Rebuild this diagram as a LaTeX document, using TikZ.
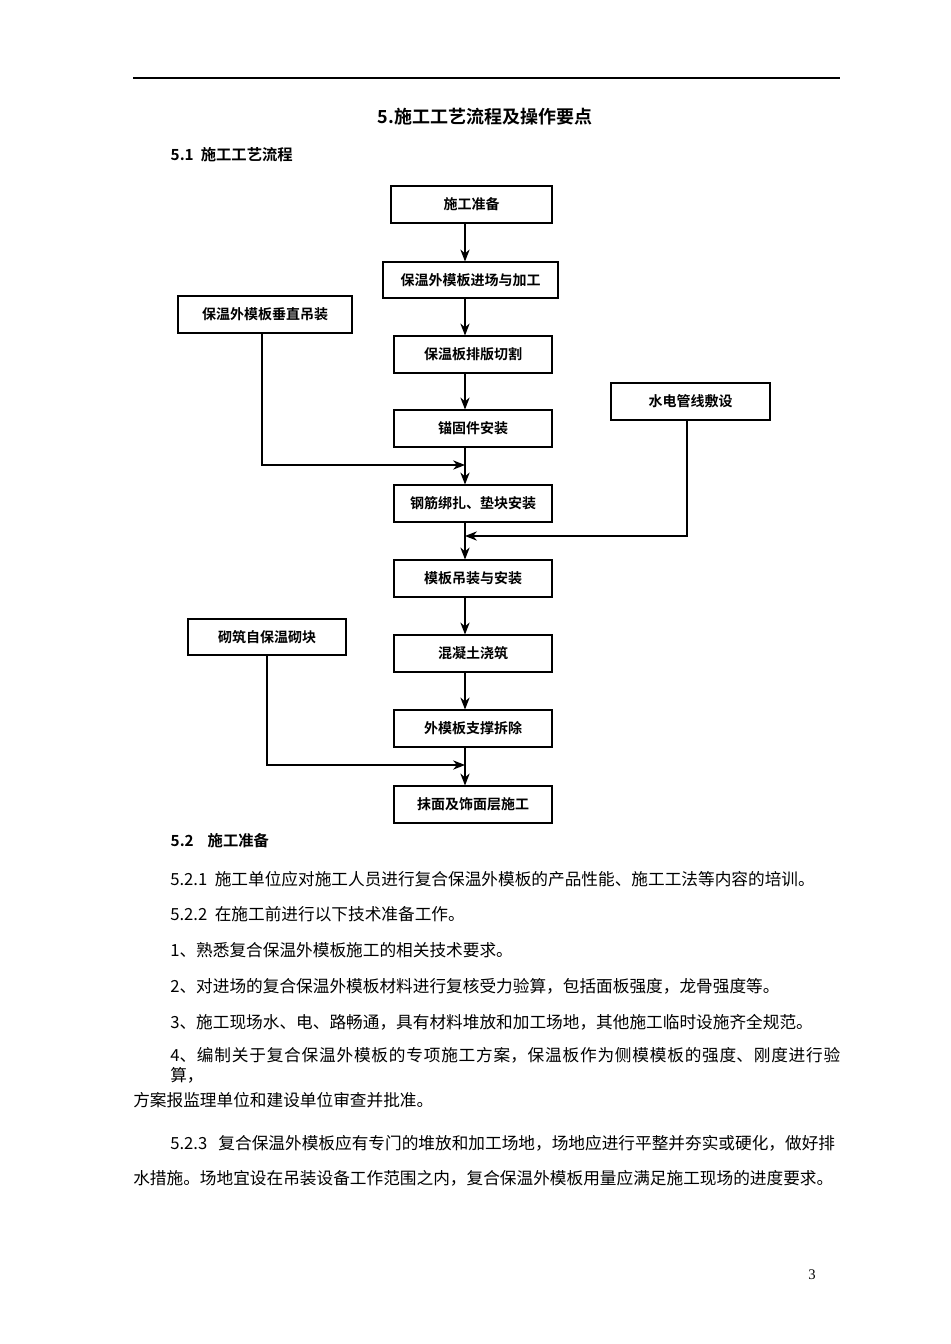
\documentclass[tikz,border=0pt]{standalone}
\usetikzlibrary{arrows.meta}
\usepackage{fontspec}
\setmainfont{Liberation Serif}
\newfontfamily\cjk{Noto Sans CJK SC}
\newfontfamily\cjkb{Noto Sans CJK SC Bold}
\begin{document}
\begin{tikzpicture}[x=0.75pt,y=-0.75pt,
  box/.style={draw,thick,fill=white,inner sep=0pt,font=\cjkb\fontsize{10.5}{12}\selectfont},
  arr/.style={thick,-{Stealth[length=9pt,width=7pt]}},
  body/.style={anchor=west,inner sep=0pt,font=\cjk\fontsize{12.5}{15}\selectfont},
  jl/.style={anchor=west,inner sep=0pt,text width=#1*0.75pt,align=justify,font=\cjk\fontsize{12.5}{15}\selectfont}]
\useasboundingbox (0,0) rectangle (950,1344);
\draw[thick] (133,78) -- (840,78);
\node[font=\cjkb\fontsize{13.5}{15}\selectfont] (t) at (485,117) {5.施工工艺流程及操作要点};
\node[anchor=west,font=\cjkb\fontsize{11.5}{13}\selectfont] (s1) at (166,155) {5.1\ \ 施工工艺流程};
\def\bx#1#2#3#4#5#6{\node[box,minimum width=(#4-#2)*0.75pt,minimum height=(#5-#3)*0.75pt] (#1) at ({(#2+#4)/2},{(#3+#5)/2}) {#6};}
\bx{a}{391}{186}{552}{223}{施工准备}
\bx{b}{383}{262}{558}{298}{保温外模板进场与加工}
\bx{l1}{178}{296}{352}{333}{保温外模板垂直吊装}
\bx{c}{394}{336}{552}{373}{保温板排版切割}
\bx{r1}{611}{383}{770}{420}{水电管线敷设}
\bx{d}{394}{410}{552}{447}{锚固件安装}
\bx{e}{394}{485}{552}{522}{钢筋绑扎、垫块安装}
\bx{f}{394}{560}{552}{597}{模板吊装与安装}
\bx{l2}{188}{619}{346}{655}{砌筑自保温砌块}
\bx{g}{394}{635}{552}{672}{混凝土浇筑}
\bx{h}{394}{710}{552}{747}{外模板支撑拆除}
\bx{i}{394}{786}{552}{823}{抹面及饰面层施工}
\coordinate (m1) at (465,465);
\coordinate (m2) at (465,536);
\coordinate (m3) at (465,765);
\draw[arr] (a.south-|465,0) -- (b.north-|465,0);
\draw[arr] (b.south-|465,0) -- (c.north-|465,0);
\draw[arr] (c.south-|465,0) -- (d.north-|465,0);
\draw[arr] (d.south-|465,0) -- (e.north-|465,0);
\draw[arr] (e.south-|465,0) -- (f.north-|465,0);
\draw[arr] (f.south-|465,0) -- (g.north-|465,0);
\draw[arr] (g.south-|465,0) -- (h.north-|465,0);
\draw[arr] (h.south-|465,0) -- (i.north-|465,0);
\draw[arr] (l1.south-|262,0) |- (m1);
\draw[arr] (r1.south-|687,0) |- (m2);
\draw[arr] (l2.south-|267,0) |- (m3);
\node[anchor=west,font=\cjkb\fontsize{11.5}{13}\selectfont] (s2) at (166,841) {5.2\ \ \ \ 施工准备};
\node[body] (p1) at (170,879) {5.2.1\ \ 施工单位应对施工人员进行复合保温外模板的产品性能、施工工法等内容的培训。};
\node[body] (p2) at (170,914) {5.2.2\ \ 在施工前进行以下技术准备工作。};
\node[body] (p3) at (170,950) {1、熟悉复合保温外模板施工的相关技术要求。};
\node[body] (p4) at (170,986) {2、对进场的复合保温外模板材料进行复核受力验算，包括面板强度，龙骨强度等。};
\node[body] (p5) at (170,1022) {3、施工现场水、电、路畅通，具有材料堆放和加工场地，其他施工临时设施齐全规范。};
\node[jl=670] (p6) at (170,1065) {\XeTeXlinebreaklocale "zh"\XeTeXlinebreakskip=0pt plus 2pt\parfillskip=0pt 4、编制关于复合保温外模板的专项施工方案，保温板作为侧模模板的强度、刚度进行验算，};
\node[body] (p6b) at (133,1100) {方案报监理单位和建设单位审查并批准。};
\node[jl=670] (p7) at (170,1143) {\XeTeXlinebreaklocale "zh"\XeTeXlinebreakskip=0pt plus 2pt\parfillskip=0pt 5.2.3\ \ \ 复合保温外模板应有专门的堆放和加工场地，场地应进行平整并夯实或硬化，做好排};
\node[body] (p7b) at (133,1178) {水措施。场地宜设在吊装设备工作范围之内，复合保温外模板用量应满足施工现场的进度要求。};
\node[font=\fontsize{11}{13}\selectfont] (pg) at (812,1275) {3};
\end{tikzpicture}
\end{document}
